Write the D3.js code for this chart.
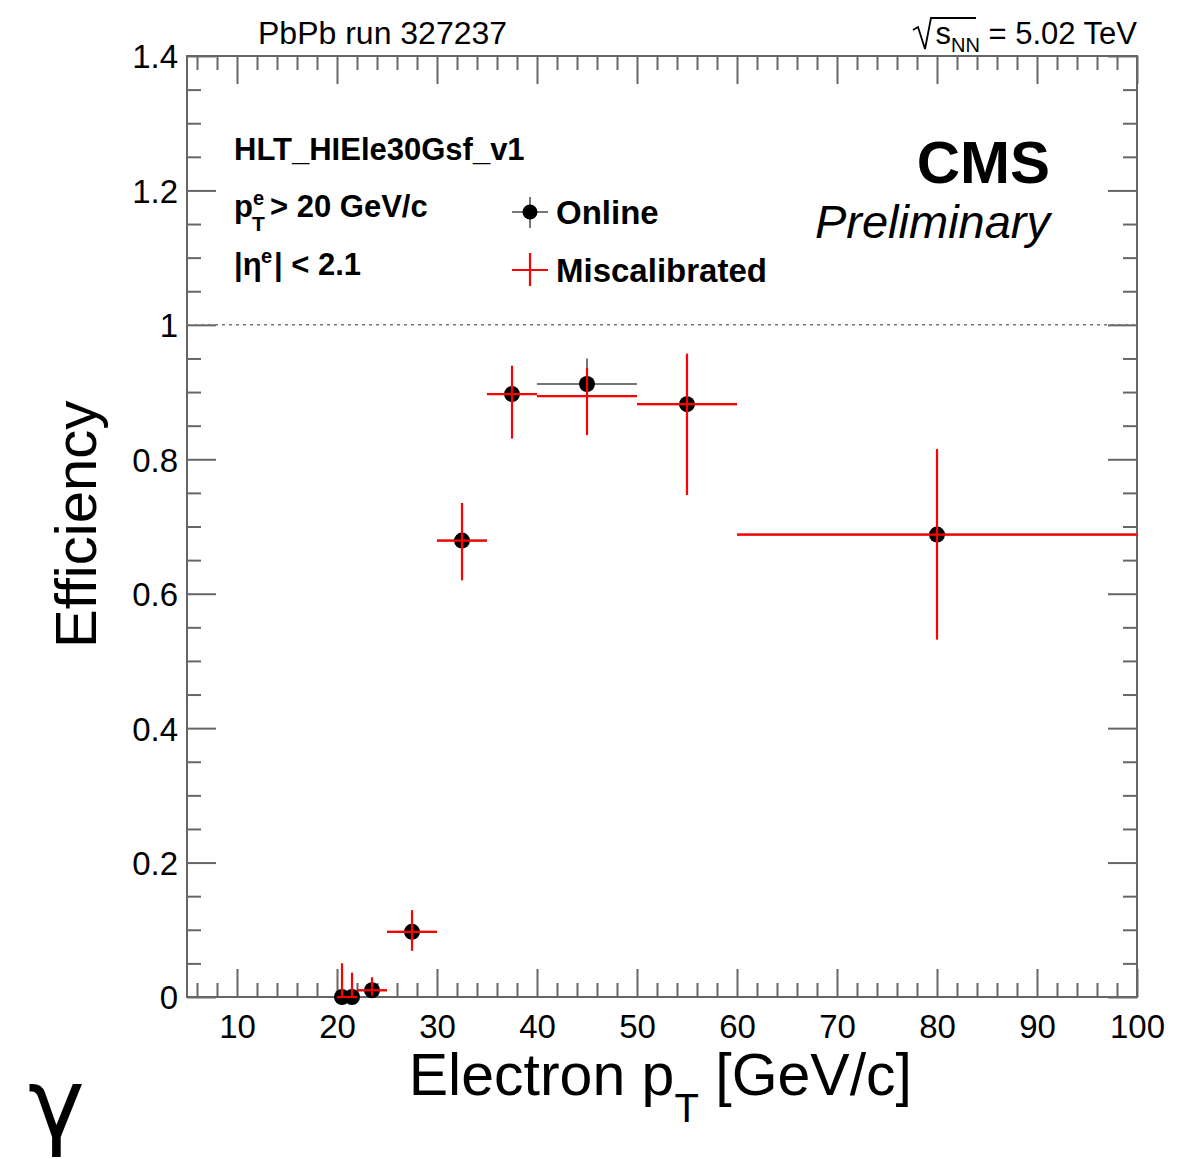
<!DOCTYPE html>
<html>
<head>
<meta charset="utf-8">
<script src="https://cdn.jsdelivr.net/npm/d3@7"></script>
<style>
  body { margin: 0; background: #fff; }
  svg { display: block; font-family: "Liberation Sans", Arial, sans-serif; }
</style>
</head>
<body>
<svg id="chart" width="1189" height="1159"></svg>
<script>
// ---- data ----
const binLo   = [20, 21, 22, 25, 30, 35, 40, 50, 60];
const binHi   = [21, 22, 25, 30, 35, 40, 50, 60, 100];
const binCtr  = [20.5, 21.5, 23.5, 27.5, 32.5, 37.5, 45, 55, 80];

const onlineEff   = [0, 0, 0.010, 0.097, 0.679, 0.897, 0.912, 0.882, 0.688];
const onlineErrUp = [0.050, 0.036, 0.019, 0.032, 0.056, 0.042, 0.038, 0.075, 0.127];
const onlineErrDn = [0, 0, 0.008, 0.028, 0.059, 0.066, 0.062, 0.135, 0.156];

const miscalEff   = [0, 0, 0.010, 0.097, 0.679, 0.897, 0.894, 0.882, 0.688];
const miscalErrUp = [0.050, 0.036, 0.019, 0.032, 0.056, 0.042, 0.042, 0.075, 0.127];
const miscalErrDn = [0, 0, 0.008, 0.028, 0.059, 0.066, 0.058, 0.135, 0.156];

const xMajorTicks = [10, 20, 30, 40, 50, 60, 70, 80, 90, 100];
const yMajorTicks = [0, 0.2, 0.4, 0.6, 0.8, 1, 1.2, 1.4];
const yTickLabels = ["0", "0.2", "0.4", "0.6", "0.8", "1", "1.2", "1.4"];

// ---- layout ----
const L = 187, R = 1137, T = 56, B = 997;
const svg = d3.select("#chart");
const x = d3.scaleLinear().domain([5, 100]).range([L, R]);
const y = d3.scaleLinear().domain([0, 1.4]).range([B, T]);
const axisCol = "#666";
const font = "Liberation Sans, Arial, sans-serif";

const xMinor = d3.range(6, 100.001, 2).filter(v => v % 10 !== 0);
const yMinor = d3.range(0, 1.4001, 0.05).map(v => +v.toFixed(2)).filter(v => Math.abs(v / 0.2 - Math.round(v / 0.2)) > 1e-6);

function styleAxis(g) {
  g.select(".domain").remove();
  g.selectAll(".tick line").attr("stroke", axisCol).attr("stroke-width", 2);
}

// bottom
svg.append("g").attr("transform", `translate(0,${B})`)
  .call(d3.axisBottom(x).tickValues(xMajorTicks).tickSize(-28).tickPadding(0).tickFormat(d3.format("d")))
  .call(styleAxis)
  .call(g => g.selectAll("text").attr("y", 41).attr("dy", 0).attr("font-size", 33).attr("fill", "#000")
    .attr("font-family", font));
svg.append("g").attr("transform", `translate(0,${B})`)
  .call(d3.axisBottom(x).tickValues(xMinor).tickSize(-14).tickFormat(""))
  .call(styleAxis);
// top
svg.append("g").attr("transform", `translate(0,${T})`)
  .call(d3.axisTop(x).tickValues(xMajorTicks).tickSize(-28).tickFormat(""))
  .call(styleAxis);
svg.append("g").attr("transform", `translate(0,${T})`)
  .call(d3.axisTop(x).tickValues(xMinor).tickSize(-14).tickFormat(""))
  .call(styleAxis);
// left
svg.append("g").attr("transform", `translate(${L},0)`)
  .call(d3.axisLeft(y).tickValues(yMajorTicks).tickSize(-29).tickPadding(0).tickFormat((d, i) => yTickLabels[i]))
  .call(styleAxis)
  .call(g => g.selectAll("text").attr("x", -9).attr("dy", "0.36em").attr("font-size", 33).attr("fill", "#000")
    .attr("font-family", font));
svg.append("g").attr("transform", `translate(${L},0)`)
  .call(d3.axisLeft(y).tickValues(yMinor).tickSize(-14).tickFormat(""))
  .call(styleAxis);
// right
svg.append("g").attr("transform", `translate(${R},0)`)
  .call(d3.axisRight(y).tickValues(yMajorTicks).tickSize(-29).tickFormat(""))
  .call(styleAxis);
svg.append("g").attr("transform", `translate(${R},0)`)
  .call(d3.axisRight(y).tickValues(yMinor).tickSize(-14).tickFormat(""))
  .call(styleAxis);

// frame
svg.append("rect").attr("x", L).attr("y", T).attr("width", R - L).attr("height", B - T)
  .attr("fill", "none").attr("stroke", axisCol).attr("stroke-width", 2);

// dotted line at 1
svg.append("line").attr("x1", L).attr("x2", R).attr("y1", y(1)).attr("y2", y(1))
  .attr("stroke", "#777").attr("stroke-width", 1.5).attr("stroke-dasharray", "3,4");

// ---- data marks ----
const idx = d3.range(binCtr.length);
// Online error bars (gray)
const gOn = svg.append("g");
gOn.selectAll("line.h").data(idx).join("line")
  .attr("x1", i => x(binLo[i])).attr("x2", i => x(binHi[i]))
  .attr("y1", i => y(onlineEff[i])).attr("y2", i => y(onlineEff[i]))
  .attr("stroke", "#777").attr("stroke-width", 2);
gOn.selectAll("line.v").data(idx).join("line")
  .attr("x1", i => x(binCtr[i])).attr("x2", i => x(binCtr[i]))
  .attr("y1", i => y(onlineEff[i] + onlineErrUp[i])).attr("y2", i => y(onlineEff[i] - onlineErrDn[i]))
  .attr("stroke", "#777").attr("stroke-width", 2);
gOn.selectAll("circle").data(idx).join("circle")
  .attr("cx", i => x(binCtr[i])).attr("cy", i => y(onlineEff[i])).attr("r", 8).attr("fill", "#000");

// Miscalibrated (red crosses, no marker)
const gM = svg.append("g");
gM.selectAll("line.h").data(idx).join("line")
  .attr("x1", i => x(binLo[i])).attr("x2", i => x(binHi[i]))
  .attr("y1", i => y(miscalEff[i])).attr("y2", i => y(miscalEff[i]))
  .attr("stroke", "#ff0000").attr("stroke-width", 2.2);
gM.selectAll("line.v").data(idx).join("line")
  .attr("x1", i => x(binCtr[i])).attr("x2", i => x(binCtr[i]))
  .attr("y1", i => y(miscalEff[i] + miscalErrUp[i])).attr("y2", i => y(miscalEff[i] - miscalErrDn[i]))
  .attr("stroke", "#ff0000").attr("stroke-width", 2.2);

// ---- texts ----
svg.append("text").attr("x", 258).attr("y", 44).attr("font-size", 32).attr("font-family", font).text("PbPb run 327237");

// sqrt(s_NN) = 5.02 TeV
const sq = svg.append("text").attr("x", 1137).attr("y", 44).attr("text-anchor", "end")
  .attr("font-size", 31).attr("font-family", font);
sq.append("tspan").text("s");
sq.append("tspan").attr("font-size", 20).attr("dy", 8).text("NN");
sq.append("tspan").attr("dy", -8).text(" = 5.02 TeV");
// radical sign drawn as path
svg.append("path").attr("d", "M913,30 L918,27 L925,49 L931,18 L976,18")
  .attr("fill", "none").attr("stroke", "#000").attr("stroke-width", 1.8);

// info block
svg.append("text").attr("x", 234).attr("y", 160).attr("font-size", 31).attr("font-weight", "bold")
  .attr("font-family", font).text("HLT_HIEle30Gsf_v1");
svg.append("text").attr("x", 234).attr("y", 217).attr("font-size", 31).attr("font-weight", "bold").attr("font-family", font).text("p");
svg.append("text").attr("x", 253).attr("y", 205).attr("font-size", 20).attr("font-weight", "bold").attr("font-family", font).text("e");
svg.append("text").attr("x", 252).attr("y", 231).attr("font-size", 21).attr("font-weight", "bold").attr("font-family", font).text("T");
svg.append("text").attr("x", 270).attr("y", 217).attr("font-size", 31).attr("font-weight", "bold").attr("font-family", font).text("> 20 GeV/c");

svg.append("text").attr("x", 234).attr("y", 275).attr("font-size", 31).attr("font-weight", "bold").attr("font-family", font).text("|η");
svg.append("text").attr("x", 261).attr("y", 263).attr("font-size", 20).attr("font-weight", "bold").attr("font-family", font).text("e");
svg.append("text").attr("x", 274).attr("y", 275).attr("font-size", 31).attr("font-weight", "bold").attr("font-family", font).text("| < 2.1");

// legend
const legX = 530;
svg.append("line").attr("x1", legX - 18).attr("x2", legX + 18).attr("y1", 212).attr("y2", 212).attr("stroke", "#777").attr("stroke-width", 2);
svg.append("line").attr("x1", legX).attr("x2", legX).attr("y1", 197).attr("y2", 228).attr("stroke", "#777").attr("stroke-width", 2);
svg.append("circle").attr("cx", legX).attr("cy", 212).attr("r", 7.5).attr("fill", "#000");
svg.append("text").attr("x", 556).attr("y", 224).attr("font-size", 33).attr("font-weight", "bold").attr("font-family", font).text("Online");

svg.append("line").attr("x1", legX - 18).attr("x2", legX + 18).attr("y1", 270).attr("y2", 270).attr("stroke", "#ff0000").attr("stroke-width", 2.2);
svg.append("line").attr("x1", legX).attr("x2", legX).attr("y1", 253).attr("y2", 286).attr("stroke", "#ff0000").attr("stroke-width", 2.2);
svg.append("text").attr("x", 556).attr("y", 282).attr("font-size", 33).attr("font-weight", "bold").attr("font-family", font).text("Miscalibrated");

// CMS Preliminary
svg.append("text").attr("x", 1050).attr("y", 183).attr("text-anchor", "end").attr("font-size", 60)
  .attr("font-weight", "bold").attr("font-family", font).text("CMS");
svg.append("text").attr("x", 1050).attr("y", 238).attr("text-anchor", "end").attr("font-size", 47)
  .attr("font-style", "italic").attr("font-family", font).text("Preliminary");

// axis titles
const xt = svg.append("text").attr("x", 912).attr("y", 1095).attr("text-anchor", "end")
  .attr("font-size", 59).attr("font-family", font);
xt.append("tspan").text("Electron p");
xt.append("tspan").attr("font-size", 40).attr("dy", 27).text("T");
xt.append("tspan").attr("dy", -27).text(" [GeV/c]");

svg.append("text").attr("transform", "translate(96,648) rotate(-90)").attr("font-size", 58)
  .attr("font-family", font).text("Efficiency");

// stray gamma glyph
svg.append("text").attr("x", 28).attr("y", 1137).attr("font-size", 96).attr("font-family", "DejaVu Sans, sans-serif").text("γ");
</script>
</body>
</html>
